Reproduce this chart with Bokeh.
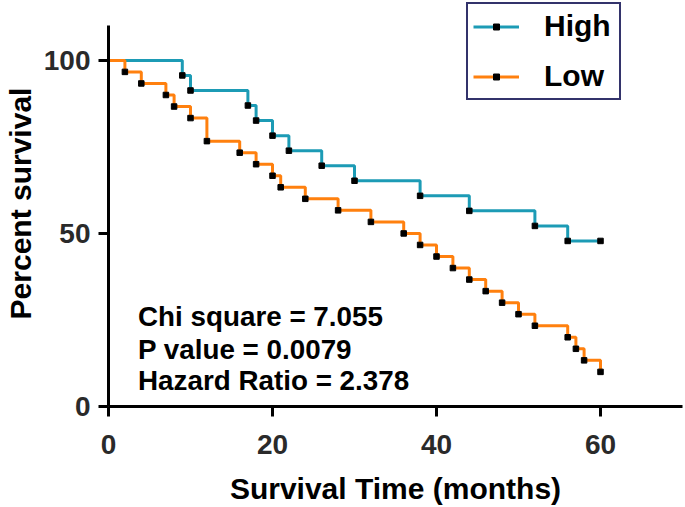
from bokeh.plotting import figure
from bokeh.models import Range1d, FixedTicker, Legend, LegendItem, ColumnDataSource
from bokeh.core.properties import value
from bokeh.embed import file_html
from bokeh.resources import INLINE

# ---- data ----
high_time = [0, 9, 10, 17, 18, 20, 22, 26, 30, 38, 44, 52, 56, 60]
high_surv = [100, 95.65, 91.30, 86.96, 82.61, 78.26, 73.91, 69.57, 65.22, 60.87, 56.52, 52.17, 47.83, 47.83]

low_time = [0, 2, 4, 7, 8, 10, 12, 16, 18, 20, 21, 24, 28, 32, 36, 38, 40, 42, 44, 46, 48, 50, 52, 56, 57, 58, 60]
low_surv = [100, 96.67, 93.33, 90.0, 86.67, 83.33, 76.67, 73.33, 70.0, 66.67, 63.33, 60.0, 56.67, 53.33,
            50.0, 46.67, 43.33, 40.0, 36.67, 33.33, 30.0, 26.67, 23.33, 20.0, 16.67, 13.33, 10.0]

x_ticks = [0, 20, 40, 60]
y_ticks = [0, 50, 100]
stats_text = ["Chi square = 7.055", "P value = 0.0079", "Hazard Ratio = 2.378"]
stats_x = [3.6, 3.6, 3.6]
stats_y = [26.1, 16.6, 7.4]

BLUE = "#1C9BB5"
ORANGE = "#FF800E"
FONT = "Liberation Sans"

p = figure(width=685, height=507, x_range=Range1d(0, 70), y_range=Range1d(0, 117.3),
           output_backend="svg", toolbar_location=None, title=None,
           min_border_left=0, min_border_right=3, min_border_top=0, min_border_bottom=0)
p.outline_line_color = None
p.xgrid.visible = False
p.ygrid.visible = False
p.background_fill_color = "white"

for ax in (p.xaxis[0], p.yaxis[0]):
    ax.axis_line_width = 3
    ax.axis_line_color = "black"
    ax.major_tick_line_width = 3
    ax.major_tick_line_color = "black"
    ax.major_tick_out = 10
    ax.major_tick_in = 0
    ax.minor_tick_line_color = None
    ax.major_label_text_font = FONT
    ax.major_label_text_font_style = "bold"
    ax.major_label_text_font_size = "28px"
    ax.major_label_text_color = "#2a2a2a"
    ax.axis_label_text_font = FONT
    ax.axis_label_text_font_style = "bold"
    ax.axis_label_text_font_size = "30px"
    ax.axis_label_text_color = "black"

p.xaxis.ticker = FixedTicker(ticks=x_ticks)
p.yaxis.ticker = FixedTicker(ticks=y_ticks)
p.xaxis.bounds = (0, 70)
p.yaxis.bounds = (0, 110)
p.xaxis.axis_label = "Survival Time (months)"
p.yaxis.axis_label = "Percent survival"
p.xaxis.major_label_standoff = 18
p.xaxis.axis_label_standoff = 15
p.yaxis.major_label_standoff = 8
p.yaxis.axis_label_standoff = 4

hl = p.step(high_time, high_surv, mode="after", line_color=BLUE, line_width=3)
ll = p.step(low_time, low_surv, mode="after", line_color=ORANGE, line_width=3)
hm = p.scatter(high_time[1:], high_surv[1:], marker="square", size=5.5, color="black")
lm = p.scatter(low_time[1:], low_surv[1:], marker="square", size=5.5, color="black")

src = ColumnDataSource(dict(x=stats_x, y=stats_y, t=stats_text))
p.text(x="x", y="y", text="t", source=src, text_font=value(FONT), text_font_style="bold",
       text_font_size="27.8px", text_color="black", text_baseline="alphabetic", text_align="left")

legend = Legend(items=[LegendItem(label="High", renderers=[hl, hm]),
                       LegendItem(label="Low", renderers=[ll, lm])],
                location=(358, 306), margin=0, padding=5, spacing=16,
                label_height=30, label_width=70, glyph_height=15, glyph_width=46, label_standoff=25,
                label_text_font=FONT, label_text_font_style="bold", label_text_font_size="30px",
                label_text_color="black",
                border_line_color="#33336B", border_line_width=2, border_line_alpha=1.0,
                background_fill_color="white", background_fill_alpha=1.0)
p.add_layout(legend, "center")

open("out.html", "w").write(file_html(p, INLINE))
